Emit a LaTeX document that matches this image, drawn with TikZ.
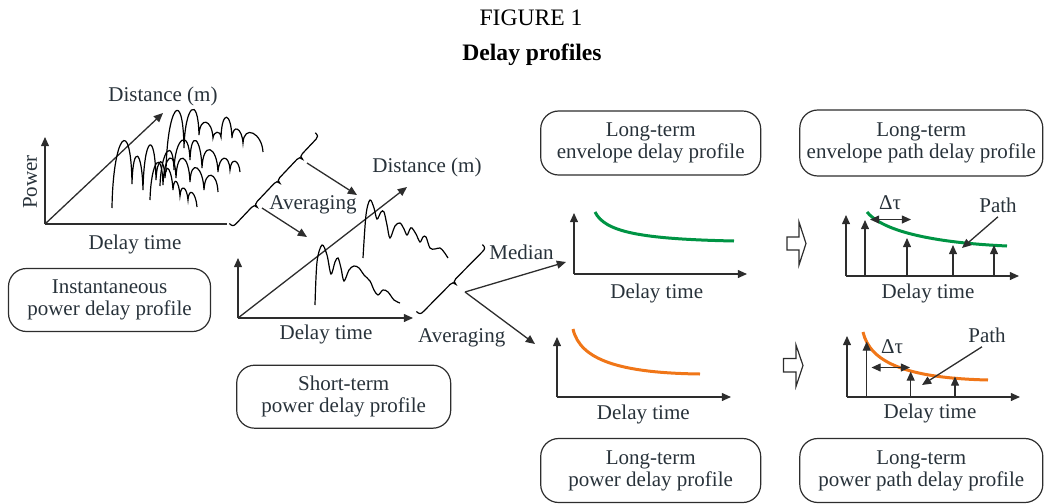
\documentclass[tikz,border=0pt]{standalone}
\usepackage{fontspec}
\setmainfont{Liberation Serif}
\usetikzlibrary{arrows.meta,calc}
\definecolor{txt}{RGB}{40,50,58}
\definecolor{ln}{RGB}{45,45,45}
\definecolor{grn}{RGB}{0,148,68}
\definecolor{org}{RGB}{240,118,24}
\begin{document}
\begin{tikzpicture}[x=0.5pt,y=-0.5pt,
  lbl/.style={font=\fontsize{10.5}{11}\selectfont, text=txt, inner sep=0pt},
  ttl/.style={font=\fontsize{11.8}{13}\selectfont, text=black, inner sep=0pt, anchor=base},
  box/.style={draw=ln, line width=0.6pt, rounded corners=9pt, align=center,
    font=\fontsize{10.5}{11}\selectfont, text=txt, inner sep=0pt},
  tip/.style={-{Triangle[length=4.6pt,width=4pt]}},
  ax/.style={draw=ln, line width=0.65pt, tip},
  pline/.style={draw=ln, line width=0.65pt},
  wig/.style={draw=black, line width=0.6pt},
  brc/.style={draw=black, line width=0.6pt},
  gcurve/.style={draw=grn, line width=1.5pt},
  ocurve/.style={draw=org, line width=1.5pt},
  hollow/.style={draw=ln, line width=0.6pt, fill=white}
]
\useasboundingbox (0,0) rectangle (1051,504);

% titles
\node[ttl] (fig) at (531,25) {FIGURE 1};
\node[ttl, font=\fontsize{11.8}{13}\selectfont\bfseries] (dp) at (532,60) {Delay profiles};

% ---------- plot 1: instantaneous ----------
\coordinate (o1) at (45,224);
\coordinate (v1) at (45,137);
\coordinate (h1) at (227,224);
\coordinate (d1) at (163,113);
\draw[ax] (o1) -- (v1);
\draw[pline] (o1) -- (h1);
\draw[ax] (o1) -- (d1);
\node[lbl, rotate=90] (pow) at (30,182) {Power};
\node[lbl] (dist1) at (163,96) {Distance (m)};
\node[lbl] (dt1) at (135,244) {Delay time};

\draw[wig] (112,208) .. controls +(1,-72) and +(-1,-72) .. (132,184)
  .. controls +(1,-41) and +(-1,-41) .. (143,190)
  .. controls +(1,-53) and +(-1,-53) .. (156,180)
  .. controls +(1,-23) and +(-1,-23) .. (165,178)
  .. controls +(1,-19) and +(-1,-19) .. (173,190)
  .. controls +(1,-15) and +(-1,-15) .. (180,196)
  .. controls +(1,-13) and +(-1,-13) .. (188,200)
  .. controls +(1,-14) and +(-1,-14) .. (197,207);
\draw[wig] (150,200) .. controls +(1,-39) and +(-1,-39) .. (163,185)
  .. controls +(1,-31) and +(-1,-31) .. (176,178)
  .. controls +(1,-29) and +(-1,-29) .. (190,182)
  .. controls +(1,-24) and +(-1,-24) .. (204,190)
  .. controls +(1,-21) and +(-1,-21) .. (218,192);
\draw[wig] (160,186) .. controls +(1,-35) and +(-1,-35) .. (174,170)
  .. controls +(1,-33) and +(-1,-33) .. (190,160)
  .. controls +(1,-31) and +(-1,-31) .. (202,168)
  .. controls +(1,-27) and +(-1,-27) .. (218,172)
  .. controls +(1,-17) and +(-1,-17) .. (230,170)
  .. controls +(1,-13) and +(-1,-13) .. (240,172);
\draw[wig] (166,172) .. controls +(1,-64) and +(-1,-64) .. (184,148)
  .. controls +(1,-42) and +(-1,-42) .. (199,135)
  .. controls +(1,-19) and +(-1,-19) .. (213,138)
  .. controls +(1,-7) and +(-1,-7) .. (221,137)
  .. controls +(1,-27) and +(-1,-27) .. (232,138)
  .. controls +(1,-15) and +(-1,-15) .. (243,143)
  .. controls +(1,-19) and +(-1,-19) .. (263,152);

% brace 1
\begin{scope}[shift={(233,227)}, rotate=46.6]
\draw[brc] (0,-5) .. controls (0,-1) and (1,0) .. (5,0) -- (27,0)
  .. controls (30,0) and (31,1) .. (31,4) .. controls (31,1) and (32,0) .. (35,0) -- (60,0)
  .. controls (63,0) and (64,1) .. (64,4) .. controls (64,1) and (65,0) .. (68,0) -- (93,0)
  .. controls (96,0) and (97,1) .. (97,4) .. controls (97,1) and (98,0) .. (101,0) -- (121,0)
  .. controls (124,0) and (125,-1) .. (125,-5);
\end{scope}
\coordinate (b1a) at (307,163);
\coordinate (b1b) at (262,208);
\coordinate (t1a) at (357,195);
\coordinate (t1b) at (307,237);
\draw[pline, tip] (b1a) -- (t1a);
\draw[pline, tip] (b1b) -- (t1b);
\node[lbl] (avg1) at (313,205) {Averaging};

\node[box, minimum width=101pt, minimum height=31.5pt] (inst) at (109.5,300) {Instantaneous\\power delay profile};

% ---------- plot 2: short-term ----------
\coordinate (o2) at (238,318);
\coordinate (v2) at (238,258);
\coordinate (h2) at (413,318);
\coordinate (d2) at (407,187);
\draw[ax] (o2) -- (v2);
\draw[ax] (o2) -- (h2);
\draw[ax] (o2) -- (d2);
\node[lbl] (dist2) at (427,167) {Distance (m)};
\node[lbl] (dt2) at (326,334) {Delay time};

\draw[wig] plot[smooth, tension=0.55] coordinates {(315,305) (317,262) (322,245) (327,255) (331,274) (335,262) (338,258) (341,268) (344,281) (349,270) (354,266) (359,268) (364,275) (370,281) (374,290) (378,295) (383,290) (388,292) (394,300) (400,303)};
\draw[wig] plot[smooth, tension=0.55] coordinates {(363,258) (366,215) (370,200) (374,208) (377,219) (381,212) (384,212) (387,225) (390,238) (395,226) (400,223) (404,229) (407,235) (410,229) (412,228) (416,234) (420,242) (423,237) (426,237) (430,248) (435,249) (440,248) (444,252) (448,258)};

% brace 2
\begin{scope}[shift={(420,315)}, rotate=45.4]
\draw[brc] (0,-5) .. controls (0,-1) and (1,0) .. (5,0) -- (43,0)
  .. controls (46,0) and (47,1) .. (47,4) .. controls (47,1) and (48,0) .. (51,0) -- (89,0)
  .. controls (93,0) and (94,-1) .. (94,-5);
\end{scope}
\coordinate (b2) at (465,292);
\coordinate (t2a) at (566,262);
\coordinate (t2b) at (535,344);
\draw[pline, tip] (b2) -- (t2a);
\draw[pline, tip] (b2) -- (t2b);
\node[lbl] (med) at (521.5,252) {Median};
\node[lbl] (avg2) at (461.7,338) {Averaging};

\node[box, minimum width=107pt, minimum height=31.5pt] (short) at (343.7,396.7) {Short-term\\power delay profile};

% ---------- plot 3: long-term envelope ----------
\coordinate (o3) at (574,274);
\coordinate (v3) at (574,213);
\coordinate (h3) at (747,274);
\draw[gcurve] (595,212) .. controls (605,232) and (640,239) .. (734,241);
\draw[ax] (o3) -- (v3);
\draw[ax] (o3) -- (h3);
\node[lbl] (dt3) at (656.7,293) {Delay time};
\node[box, minimum width=110pt, minimum height=32pt] (ltenv) at (650.7,143) {Long-term\\envelope delay profile};

% hollow arrow 1
\draw[hollow] (787,237) -- (799,237) -- (799,222) -- (806,243.5) -- (799,265) -- (799,250) -- (787,250) -- cycle;

% ---------- plot 4: long-term envelope path ----------
\coordinate (o4) at (846,276);
\coordinate (v4) at (846,215);
\coordinate (h4) at (1019,276);
\draw[gcurve] (867,212) .. controls (880,228) and (920,242) .. (1007,246);
\draw[ax] (o4) -- (v4);
\draw[ax] (o4) -- (h4);
\coordinate (p4a0) at (865,276);   \coordinate (p4a) at (865,220);
\coordinate (p4b0) at (907,276);   \coordinate (p4b) at (907,238);
\coordinate (p4c0) at (953,276);   \coordinate (p4c) at (953,245);
\coordinate (p4d0) at (994,276);   \coordinate (p4d) at (994,245);
\draw[ax] (p4a0) -- (p4a);
\draw[ax] (p4b0) -- (p4b);
\draw[ax] (p4c0) -- (p4c);
\draw[ax] (p4d0) -- (p4d);
\coordinate (dt4a) at (870,219.5);
\coordinate (dt4b) at (911,219.5);
\draw[pline, {Triangle[length=4.6pt,width=4pt]}-{Triangle[length=4.6pt,width=4pt]}] (dt4a) -- (dt4b);
\node[lbl] (tau4) at (890,203) {Δτ};
\node[lbl] (path4) at (998,205) {Path};
\coordinate (pt4) at (962,248);
\draw[pline, tip] ($(path4.south)+(0,4)$) -- (pt4);
\node[lbl] (dt4) at (928,293) {Delay time};
\node[box, minimum width=121.5pt, minimum height=33pt] (ltenvp) at (921.3,143) {Long-term\\envelope path delay profile};

% ---------- plot 5: long-term power ----------
\coordinate (o5) at (557,397);
\coordinate (v5) at (557,337);
\coordinate (h5) at (731,397);
\draw[ocurve] (573,329) .. controls (580,360) and (620,373) .. (700,374);
\draw[ax] (o5) -- (v5);
\draw[ax] (o5) -- (h5);
\node[lbl] (dt5) at (643.3,414) {Delay time};
\node[box, minimum width=110pt, minimum height=32pt] (ltpow) at (650.7,470.5) {Long-term\\power delay profile};

% hollow arrow 2
\draw[hollow] (783.5,358.5) -- (796,358.5) -- (796,345) -- (803,365.5) -- (796,386.5) -- (796,372) -- (783.5,372) -- cycle;

% ---------- plot 6: long-term power path ----------
\coordinate (o6) at (847,397);
\coordinate (v6) at (847,336);
\coordinate (h6) at (1020,397);
\draw[ocurve] (863,332) .. controls (870,362) and (905,378) .. (988,380);
\draw[ax] (o6) -- (v6);
\draw[ax] (o6) -- (h6);
\coordinate (p6a0) at (866.7,397);  \coordinate (p6a) at (866.7,341.5);
\coordinate (p6b0) at (910.7,397);  \coordinate (p6b) at (910.7,371.5);
\coordinate (p6c0) at (955,397);    \coordinate (p6c) at (955,376.5);
\draw[ax] (p6a0) -- (p6a);
\draw[ax] (p6b0) -- (p6b);
\draw[ax] (p6c0) -- (p6c);
\coordinate (dt6a) at (871.5,367.5);
\coordinate (dt6b) at (910,367.5);
\draw[pline, {Triangle[length=4.6pt,width=4pt]}-{Triangle[length=4.6pt,width=4pt]}] (dt6a) -- (dt6b);
\node[lbl] (tau6) at (892,347) {Δτ};
\node[lbl] (path6) at (987,335) {Path};
\coordinate (pt6) at (922,385);
\draw[pline, tip] ($(path6.south)+(-5,4)$) -- (pt6);
\node[lbl] (dt6) at (930,413.3) {Delay time};
\node[box, minimum width=121.5pt, minimum height=32pt] (ltpowp) at (921.3,470.5) {Long-term\\power path delay profile};
\end{tikzpicture}
\end{document}
